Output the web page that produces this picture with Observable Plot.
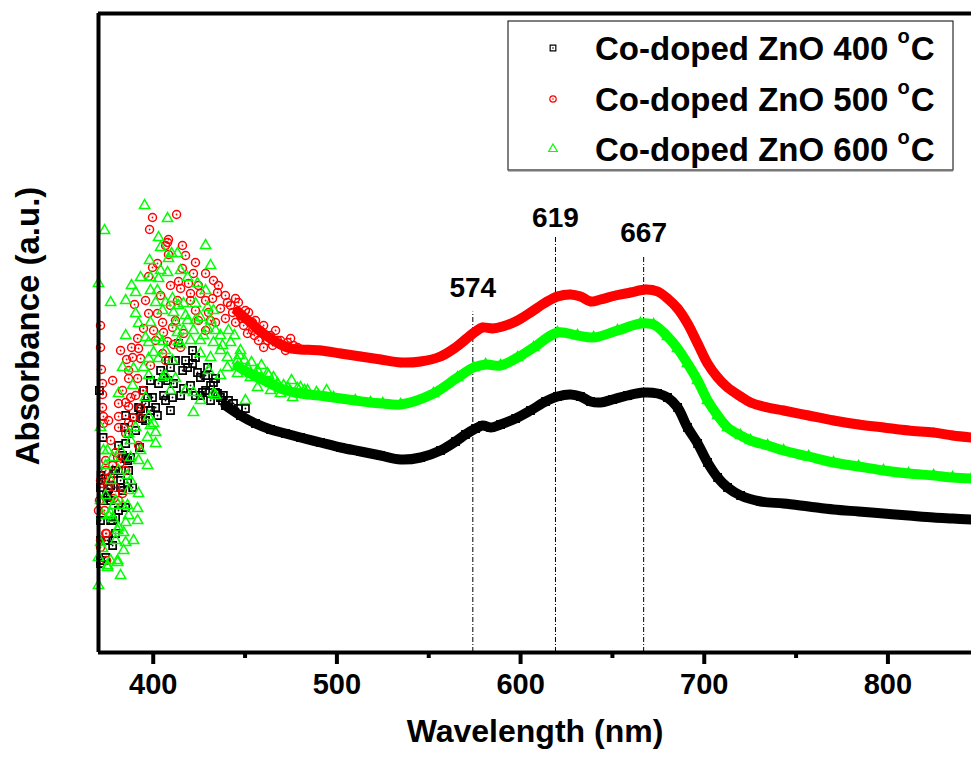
<!DOCTYPE html>
<html><head><meta charset="utf-8">
<script src="https://cdn.jsdelivr.net/npm/d3@7"></script>
<script src="https://cdn.jsdelivr.net/npm/@observablehq/plot@0.6"></script>
<style>
body{margin:0;background:#fff;}
#chart{position:relative;width:971px;height:760px;}
svg{font-family:"Liberation Sans",Arial,sans-serif;}
</style></head><body><div id="chart"></div>
<script>
// ---------- data (wavelength nm, absorbance a.u.) ----------
const seriesNames = ["Co-doped ZnO 400", "Co-doped ZnO 500", "Co-doped ZnO 600"];
const seriesColors = ["#000000", "#ff0000", "#00ff00"];
const xDomain = [370.2, 845.5];
const yDomain = [-0.005, 3.19];
const majorTicks = [400, 500, 600, 700, 800];
const minorTicks = [450, 550, 650, 750];
const xTitle = "Wavelength (nm)";
const yTitle = "Absorbance (a.u.)";
const peakNm = [574, 619, 667];
const peakLabelY = [1.772, 2.125, 2.047];
const peakRuleTop = [1.697, 2.08, 1.972];

const noisy400 = [[370.7,1.305],[372.7,1.07],[371.6,0.88],[371.3,0.82],[374.6,0.78],[376.8,0.83],[382.2,0.855],[385.0,1.18],[381.1,1.03],[384.4,1.12],[386.6,1.09],[387.7,0.97],[393.1,1.215],[392.5,1.02],[394.7,1.305],[396.9,1.27],[399.6,1.27],[401.3,1.22],[402.3,1.18],[402.9,1.34],[405.6,1.37],[407.8,1.355],[410.5,1.27],[409.4,1.42],[411.0,1.34],[413.8,1.54],[416.0,1.405],[416.5,1.315],[418.7,1.42],[421.4,1.505],[421.4,1.44],[424.1,1.395],[425.7,1.37],[426.8,1.295],[428.5,1.305],[429.6,1.42],[432.8,1.345],[435.0,1.29],[436.6,1.27],[441.0,1.255],[443.7,1.24],[446.4,1.215],[450.2,1.215],[371.3,0.455],[374.1,0.47],[375.2,0.555],[371.3,0.555],[376.8,0.755],[379.5,0.67],[377.9,0.655],[385.0,0.72],[386.1,0.955],[378.4,0.89],[388.8,0.82],[374.1,0.865],[379.5,0.905],[375.7,0.815],[375.2,0.77],[383.3,0.805],[386.1,0.845],[386.6,0.905],[385.0,1.04],[389.3,1.17],[392.0,1.22],[394.2,1.165],[395.8,1.24],[374.1,0.555],[371.3,0.44],[382.2,0.82],[385.0,0.965],[379.5,0.59],[423.0,1.47],[417.6,1.455],[431.2,1.33],[433.9,1.365],[438.2,1.28],[405.6,1.28],[408.3,1.455],[398.5,1.355],[404.0,1.405],[412.1,1.455],[414.9,1.28],[420.3,1.33],[423.0,1.28],[425.7,1.28],[428.5,1.38],[431.2,1.255],[433.9,1.295],[437.7,1.255],[390.4,1.105],[395.8,1.155],[398.5,1.205],[406.7,1.255],[409.4,1.205],[381.1,0.905],[383.3,0.98],[376.8,0.655],[372.9,0.755],[371.3,0.655],[381.1,0.705],[377.9,0.53]];
const smooth400 = [[439.3,1.23],[447.5,1.18],[455.7,1.14],[463.9,1.11],[472.0,1.09],[480.2,1.07],[491.1,1.045],[502.0,1.02],[512.9,1.00],[523.8,0.98],[534.7,0.96],[545.6,0.97],[556.4,1.005],[564.6,1.05],[570.0,1.085],[575.5,1.115],[579.3,1.13],[583.7,1.12],[589.1,1.135],[597.3,1.165],[605.4,1.205],[613.6,1.25],[620.1,1.275],[627.2,1.285],[632.6,1.275],[638.1,1.25],[643.5,1.245],[650.1,1.26],[658.2,1.28],[666.9,1.295],[674.6,1.29],[680.0,1.27],[685.5,1.22],[690.9,1.12],[696.4,1.04],[701.8,0.945],[707.3,0.87],[712.7,0.82],[719.8,0.78],[730.7,0.75],[743.2,0.74],[756.8,0.725],[770.4,0.71],[784.0,0.70],[797.6,0.69],[811.2,0.68],[824.9,0.67],[835.2,0.665],[845.5,0.66]];

const noisy500 = [[399.6,2.17],[412.7,2.185],[398.0,2.11],[407.8,2.045],[406.7,2.03],[408.3,2.06],[415.9,2.03],[408.3,1.985],[399.6,1.92],[402.3,1.94],[397.5,1.875],[413.8,1.85],[389.8,1.735],[409.4,1.83],[414.9,1.815],[371.3,1.63],[397.5,1.69],[402.3,1.69],[405.1,1.645],[410.5,1.62],[400.2,1.605],[394.7,1.615],[391.5,1.565],[371.3,1.52],[392.0,1.515],[388.2,1.52],[388.8,1.47],[385.5,1.46],[393.1,1.465],[371.8,1.41],[386.6,1.405],[386.6,1.365],[391.5,1.365],[383.3,1.305],[372.4,1.34],[405.6,1.595],[412.1,1.655],[407.8,1.55],[405.1,1.49],[411.0,1.535],[372.4,1.285],[372.4,1.22],[372.9,1.175],[372.9,1.14],[381.1,1.24],[385.0,1.245],[386.6,1.225],[381.1,1.175],[388.8,1.17],[393.1,1.17],[381.1,1.12],[385.0,1.09],[379.5,0.995],[380.6,0.97],[374.1,0.955],[377.9,0.93],[382.2,0.945],[374.1,0.905],[376.8,0.87],[379.5,0.82],[372.4,0.84],[375.1,0.82],[383.3,0.79],[378.4,0.765],[370.7,0.755],[370.2,0.705],[374.1,0.59],[371.3,0.52],[387.7,1.27],[392.0,1.03],[393.1,1.22],[386.6,1.145],[374.6,0.59],[371.3,0.555],[415.9,1.915],[421.9,1.89],[428.5,1.89],[432.8,1.855],[435.0,1.795],[419.2,1.84],[420.3,1.79],[425.7,1.79],[440.4,1.745],[446.4,1.745],[450.2,1.705],[443.2,1.695],[436.6,1.715],[454.0,1.645],[458.4,1.605],[451.3,1.59],[462.2,1.555],[460.1,1.52],[467.7,1.555],[473.1,1.545],[478.6,1.52],[414.9,1.52],[416.5,1.59],[439.3,1.665],[444.8,1.645],[448.1,1.665],[455.1,1.58],[463.9,1.58],[471.0,1.53],[428.5,1.755],[431.2,1.655],[423.0,1.705],[417.6,1.98],[423.0,1.945],[420.3,1.755],[424.6,1.655],[428.5,1.605],[432.3,1.765],[435.5,1.83],[439.3,1.78],[442.1,1.73],[444.8,1.765],[447.5,1.68],[449.2,1.63],[451.9,1.695],[454.0,1.605],[455.7,1.655],[457.3,1.555],[460.1,1.63],[461.7,1.58],[465.0,1.53],[466.6,1.605],[469.3,1.555],[472.0,1.505],[474.8,1.565],[476.4,1.53],[413.2,1.755],[409.4,1.73],[404.0,1.78],[395.8,1.755],[401.3,1.555],[406.7,1.455],[398.5,1.43],[394.2,1.305],[390.4,1.28],[382.2,1.505],[377.9,1.355],[375.7,1.155],[376.8,1.055],[385.0,0.905],[381.1,0.755],[373.5,0.705],[374.6,0.455],[371.3,0.855],[424.6,1.83],[430.1,1.695],[433.9,1.645]];
const smooth500 = [[445.9,1.70],[452.9,1.645],[458.4,1.60],[463.9,1.565],[469.3,1.535],[474.8,1.515],[480.2,1.51],[491.1,1.505],[502.0,1.49],[512.9,1.475],[523.8,1.46],[534.7,1.445],[545.6,1.45],[556.4,1.475],[564.6,1.52],[570.0,1.56],[575.5,1.60],[579.3,1.62],[584.8,1.615],[590.2,1.625],[597.3,1.65],[605.4,1.695],[613.6,1.745],[620.1,1.775],[627.2,1.785],[632.6,1.775],[638.1,1.75],[643.5,1.76],[651.7,1.78],[659.9,1.795],[668.1,1.81],[674.6,1.80],[680.0,1.765],[685.5,1.715],[690.9,1.64],[696.4,1.54],[701.8,1.44],[707.3,1.37],[712.7,1.32],[719.8,1.275],[725.2,1.245],[734.5,1.22],[743.2,1.205],[756.8,1.18],[770.4,1.155],[784.0,1.135],[797.6,1.12],[811.2,1.105],[824.9,1.095],[835.2,1.08],[845.5,1.07]];

const noisy600 = [[395.3,2.23],[407.8,2.165],[373.5,2.105],[402.9,2.07],[404.0,2.02],[398.0,1.955],[408.3,1.965],[410.0,1.99],[413.2,1.99],[414.9,1.905],[393.1,1.87],[407.8,1.895],[398.5,1.87],[402.9,1.865],[388.2,1.83],[390.4,1.795],[398.5,1.805],[402.3,1.805],[376.8,1.745],[401.3,1.745],[406.7,1.745],[410.5,1.765],[390.4,1.69],[405.1,1.705],[411.0,1.695],[392.0,1.64],[398.5,1.645],[412.1,1.645],[385.0,1.58],[395.8,1.57],[402.9,1.57],[397.5,1.545],[405.1,1.55],[413.2,1.595],[413.8,1.55],[400.2,1.495],[406.7,1.505],[383.3,1.42],[394.7,1.42],[389.3,1.415],[397.5,1.465],[402.9,1.465],[410.5,1.455],[414.9,1.535],[370.2,1.84],[388.8,1.33],[397.5,1.38],[405.1,1.37],[412.1,1.365],[381.1,1.29],[395.8,1.27],[397.5,1.175],[400.2,1.14],[401.3,1.095],[396.9,1.07],[390.4,1.12],[386.6,1.09],[371.3,1.12],[375.1,1.005],[377.9,0.97],[374.1,0.93],[381.1,0.905],[387.7,0.97],[392.0,0.955],[396.9,0.93],[401.3,1.04],[386.0,0.88],[386.6,0.805],[392.0,0.79],[379.5,0.755],[378.4,0.73],[383.3,0.73],[386.0,0.73],[391.5,0.715],[372.4,0.68],[375.7,0.68],[377.9,0.665],[386.6,0.68],[391.5,0.655],[385.0,0.645],[381.1,0.62],[383.9,0.595],[371.3,0.545],[379.5,0.555],[385.0,0.545],[372.4,0.515],[383.9,0.505],[380.6,0.455],[375.1,0.43],[370.2,0.47],[370.2,0.33],[428.5,2.03],[431.2,1.93],[418.7,1.87],[424.1,1.84],[428.5,1.805],[416.5,1.74],[423.0,1.74],[429.6,1.72],[432.8,1.705],[418.7,1.655],[425.7,1.67],[431.2,1.655],[416.5,1.605],[421.9,1.605],[429.6,1.615],[436.6,1.58],[441.0,1.605],[420.3,1.555],[425.7,1.555],[432.8,1.545],[436.6,1.505],[442.1,1.545],[447.5,1.505],[425.7,1.49],[431.2,1.47],[440.4,1.47],[445.9,1.455],[451.3,1.42],[456.8,1.405],[462.2,1.39],[440.4,1.42],[445.9,1.39],[452.9,1.37],[460.1,1.355],[467.7,1.34],[473.1,1.32],[478.6,1.315],[484.0,1.305],[456.8,1.32],[463.9,1.305],[469.3,1.29],[475.9,1.27],[421.9,1.295],[432.8,1.29],[421.9,1.195],[450.2,1.255],[462.8,1.38],[480.2,1.32],[375.1,0.42],[380.6,0.445],[380.6,0.605],[376.8,0.69],[417.6,1.68],[413.8,1.73],[423.0,1.655],[427.4,1.58],[433.9,1.605],[437.7,1.53],[444.2,1.58],[446.9,1.48],[449.6,1.455],[453.5,1.445],[456.2,1.38],[458.9,1.43],[465.5,1.37],[471.0,1.33],[475.3,1.355],[482.4,1.305],[488.9,1.295],[494.4,1.305],[430.1,1.405],[436.6,1.38],[433.9,1.28],[425.7,1.255],[417.6,1.305],[409.4,1.305],[406.7,1.38],[387.7,1.055],[393.1,1.005],[398.5,1.13],[382.2,1.005],[376.8,0.855],[374.1,0.78],[387.7,0.855],[389.3,0.555],[376.8,0.455],[382.2,0.38],[371.3,0.755],[372.9,1.005],[404.0,1.905],[385.0,1.755]];
const smooth600 = [[445.9,1.425],[452.9,1.39],[458.4,1.365],[463.9,1.34],[469.3,1.315],[474.8,1.30],[480.2,1.29],[490.0,1.28],[498.2,1.27],[510.0,1.255],[518.3,1.245],[525.0,1.24],[534.7,1.235],[552.6,1.29],[565.7,1.37],[574.4,1.42],[581.0,1.435],[589.1,1.43],[598.4,1.47],[607.1,1.52],[620.1,1.595],[631.0,1.58],[639.8,1.57],[652.8,1.605],[665.3,1.64],[672.4,1.635],[680.0,1.575],[685.5,1.515],[690.9,1.44],[696.4,1.355],[701.8,1.255],[707.3,1.18],[712.7,1.12],[719.8,1.08],[725.2,1.055],[734.5,1.03],[743.2,1.005],[756.8,0.975],[770.4,0.945],[784.0,0.925],[797.6,0.905],[811.2,0.89],[824.9,0.88],[835.2,0.87],[845.5,0.865]];

// ---------- build ----------
const P = arr => arr.map(([nm, a]) => ({nm, a}));
const peaks = peakNm.map((nm, i) => ({nm, labelY: peakLabelY[i], top: peakRuleTop[i]}));
const FONT = '"Liberation Sans", Arial, Helvetica, sans-serif';
const symbols = ["square", "circle", "triangle"];
const symR = [4, 4, 3.8];
const symSW = [1.7, 1.5, 1.5];
const groups = [
  {noisy: P(noisy400), smooth: P(smooth400)},
  {noisy: P(noisy500), smooth: P(smooth500)},
  {noisy: P(noisy600), smooth: P(smooth600)}
];

const seriesMarks = [];
groups.forEach((g, i) => {
  const c = seriesColors[i];
  seriesMarks.push(Plot.line(g.smooth, {x: "nm", y: "a", stroke: c, strokeWidth: 10, curve: "catmull-rom", strokeLinejoin: "round", strokeLinecap: "round"}));
  const all = g.noisy.concat(g.smooth);
  seriesMarks.push(Plot.dot(all, {x: "nm", y: "a", symbol: symbols[i], r: symR[i], stroke: c, strokeWidth: symSW[i], fill: "none"}));
  if (i < 2) seriesMarks.push(Plot.dot(all, {x: "nm", y: "a", r: 0.9, fill: c, stroke: "none"}));
});

const inDom = t => t >= xDomain[0] && t <= xDomain[1];

const plot = Plot.plot({
  width: 971, height: 760,
  marginLeft: 98, marginRight: 0, marginTop: 13, marginBottom: 108,
  style: {fontFamily: FONT, background: "white", color: "black", overflow: "visible"},
  x: {domain: xDomain},
  y: {domain: yDomain, axis: null},
  marks: [
    Plot.ruleX(peaks, {x: "nm", y1: yDomain[0], y2: "top", stroke: "#000", strokeWidth: 1, strokeDasharray: "5,2,1,2"}),
    ...seriesMarks,
    Plot.text(peaks, {x: "nm", y: "labelY", text: d => String(d.nm), lineAnchor: "bottom", fontSize: 28, fontWeight: "bold", fill: "#000"}),
    Plot.ruleX([xDomain[0]], {stroke: "#000", strokeWidth: 4}),
    Plot.ruleY([yDomain[0], yDomain[1]], {stroke: "#000", strokeWidth: 4}),
    Plot.axisX(majorTicks.filter(inDom), {tickSize: 12, tickPadding: 9, strokeWidth: 4, fontSize: 29, fontWeight: "bold", label: null}),
    Plot.axisX(minorTicks.filter(inDom), {tickSize: 6, strokeWidth: 4, tickFormat: () => "", label: null}),
    Plot.text([xTitle], {frameAnchor: "bottom", dy: 89, fontSize: 32, fontWeight: "bold", fill: "#000"})
  ]
});
document.getElementById("chart").appendChild(plot);

// ---------- y title & legend ----------
const svg = d3.select(plot);
svg.append("text")
  .attr("transform", "translate(39,326) rotate(-90)")
  .attr("text-anchor", "middle")
  .attr("font-family", FONT).attr("font-size", 33).attr("font-weight", "bold")
  .attr("fill", "#000")
  .text(yTitle);

const lg = svg.append("g").attr("font-family", FONT).attr("text-anchor", "start");
lg.append("rect").attr("x", 508).attr("y", 21).attr("width", 445).attr("height", 149)
  .attr("fill", "white").attr("stroke", "#000").attr("stroke-width", 1);
lg.append("line").attr("x1", 508).attr("x2", 953).attr("y1", 170.5).attr("y2", 170.5)
  .attr("stroke", "#777").attr("stroke-width", 2);
const rowY = [48, 99, 149];
const symTypes = [d3.symbolSquare, d3.symbolCircle, d3.symbolTriangle];
seriesNames.forEach((name, i) => {
  const y = rowY[i];
  lg.append("path").attr("d", d3.symbol(symTypes[i], Math.PI * 3.2 * 3.2)())
    .attr("transform", `translate(553,${y})`)
    .attr("fill", "none").attr("stroke", seriesColors[i]).attr("stroke-width", 1.2);
  if (i < 2) lg.append("circle").attr("cx", 553).attr("cy", y).attr("r", 0.8).attr("fill", seriesColors[i]);
  const t = lg.append("text").attr("x", 595).attr("y", y + 12).attr("text-anchor", "start")
    .attr("font-size", 33).attr("font-weight", "bold").attr("fill", "#000");
  t.append("tspan").text(name + " ");
  t.append("tspan").attr("font-size", 20).attr("dy", -17).text("o");
  t.append("tspan").attr("dy", 17).attr("dx", 1).text("C");
});
</script></body></html>
